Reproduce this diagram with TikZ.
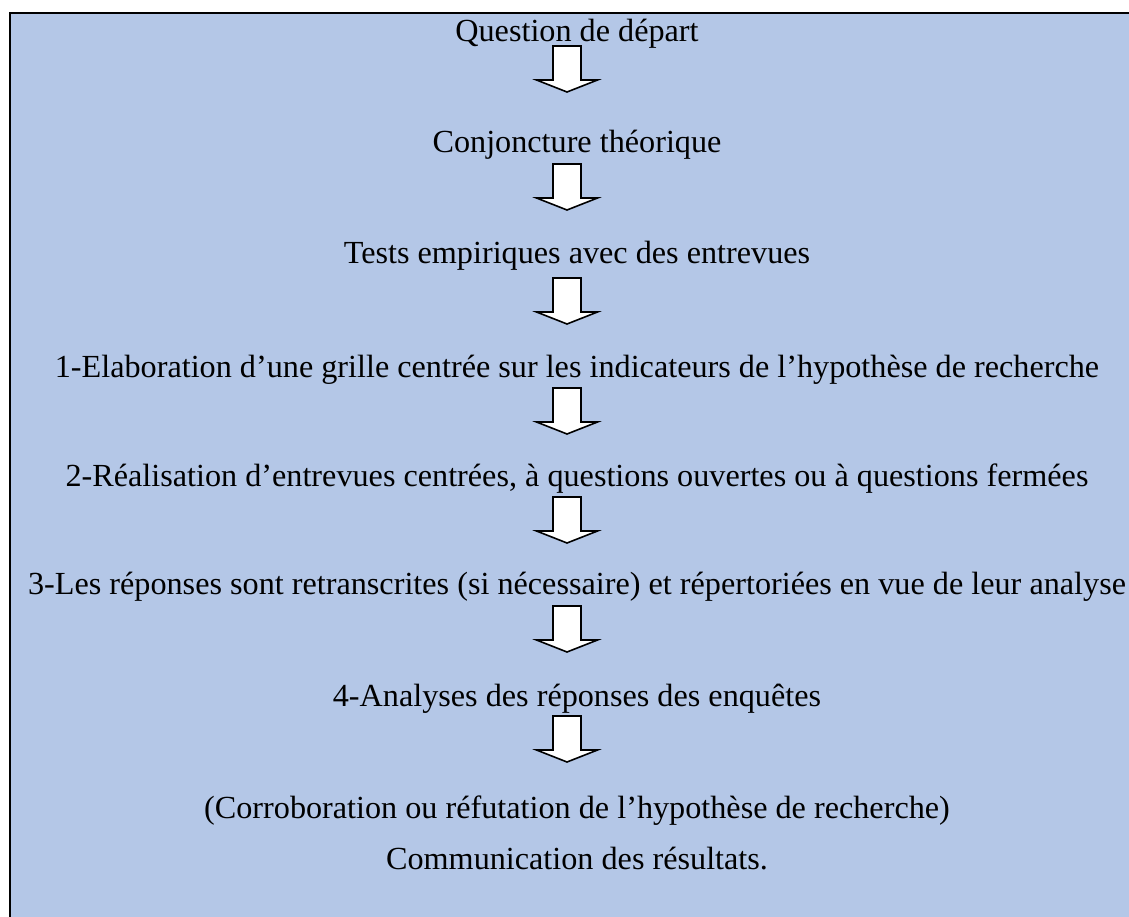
\documentclass[tikz,border=0pt]{standalone}
\usepackage{fontspec}
\setmainfont{Liberation Serif}
\definecolor{panelblue}{HTML}{B4C7E7}
\begin{document}
\begin{tikzpicture}[x=1pt,y=-1pt,
  steplabel/.style={anchor=base,inner sep=0pt,font=\fontsize{32.2}{38}\selectfont},
  arrowbox/.style={draw=black,fill=white,line width=1.6pt,line join=miter},
  downarrow/.pic={\path[arrowbox] (-14,0) -- (14,0) -- (14,34) -- (30.5,34)
      -- (0,46) -- (-30.5,34) -- (-14,34) -- cycle;}]
  \useasboundingbox (0,0) rectangle (1129,917);
  % framed panel, running past the right and lower edges
  \begin{scope}
    \clip (0,0) rectangle (1129,917);
    \fill[panelblue] (10,13) rectangle (1150,940);
    \draw[line width=2.5pt] (10,940) -- (10,13) -- (1150,13);
  \end{scope}
  % steps (text column centre and arrow column centre)
  \def\tx{577}
  \def\ax{567}
  \node[steplabel] (q)  at (\tx,42)  {Question de départ};
  \node[steplabel] (c)  at (\tx,153) {Conjoncture théorique};
  \node[steplabel] (t)  at (\tx,264) {Tests empiriques avec des entrevues};
  \node[steplabel] (s1) at (\tx,377) {1-Elaboration d’une grille centrée sur les indicateurs de l’hypothèse de recherche};
  \node[steplabel] (s2) at (\tx,486) {2-Réalisation d’entrevues centrées, à questions ouvertes ou à questions fermées};
  \node[steplabel] (s3) at (\tx,594) {3-Les réponses sont retranscrites (si nécessaire) et répertoriées en vue de leur analyse};
  \node[steplabel] (s4) at (\tx,706) {4-Analyses des réponses des enquêtes};
  \node[steplabel] (r)  at (\tx,818) {(Corroboration ou réfutation de l’hypothèse de recherche)};
  \node[steplabel] (k)  at (\tx,869) {Communication des résultats.};
  % block arrows between the steps
  \pic at (\ax,46)  {downarrow};
  \pic at (\ax,164) {downarrow};
  \pic at (\ax,278) {downarrow};
  \pic at (\ax,388) {downarrow};
  \pic at (\ax,497) {downarrow};
  \pic at (\ax,606) {downarrow};
  \pic at (\ax,716) {downarrow};
\end{tikzpicture}
\end{document}
